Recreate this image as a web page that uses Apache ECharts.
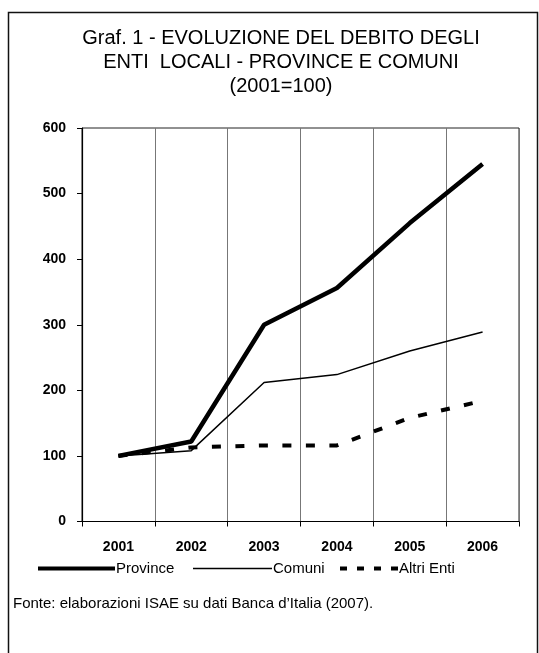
<!DOCTYPE html>
<html>
<head>
<meta charset="utf-8">
<script src="https://cdn.jsdelivr.net/npm/echarts@6/dist/echarts.min.js"></script>
<style>
  html, body { margin: 0; padding: 0; background: #fff; }
  #chart { width: 539px; height: 653px; }
</style>
</head>
<body>
<div id="chart"></div>
<script>
// Debt of local authorities, index 2001 = 100
const years = ['2001', '2002', '2003', '2004', '2005', '2006'];
const province = [100, 122, 300, 356, 455, 545];
const comuni = [100, 108, 212, 224, 260, 289];
const altriEnti = [100, 113, 116, 116, 158, 184];
const yTicks = { min: 0, max: 600, step: 100 };

const titleText = 'Graf. 1 - EVOLUZIONE DEL DEBITO DEGLI\nENTI  LOCALI - PROVINCE E COMUNI\n(2001=100)';
const sourceText = 'Fonte: elaborazioni ISAE su dati Banca d\u2019Italia (2007).';

const FONT = 'Liberation Sans, Arial, sans-serif';
const chart = echarts.init(document.getElementById('chart'), null, { renderer: 'canvas' });

const legendBase = {
  top: 561,
  padding: 0,
  itemGap: 0,
  selectedMode: false,
  textStyle: { color: '#000', fontSize: 15, fontFamily: FONT, padding: [0, 0, 0, -4] }
};

const tickLabel = { color: '#000', fontSize: 14, fontWeight: 'bold', fontFamily: FONT };

chart.setOption({
  backgroundColor: '#fff',
  animation: false,
  graphic: [
    {
      type: 'rect',
      shape: { x: 8.5, y: 12.5, width: 529, height: 700 },
      style: { fill: 'none', stroke: '#111', lineWidth: 1.5 },
      silent: true
    },
    {
      type: 'text',
      style: {
        x: 281, y: 26,
        text: titleText,
        textAlign: 'center',
        textVerticalAlign: 'top',
        fill: '#000',
        font: '20px ' + FONT,
        lineHeight: 24
      }
    },
    {
      type: 'text',
      style: {
        x: 13, y: 604,
        text: sourceText,
        textVerticalAlign: 'middle',
        fill: '#000',
        font: '15px ' + FONT
      }
    }
  ],
  legend: [
    Object.assign({}, legendBase, {
      left: 38, itemWidth: 77, itemHeight: 4,
      data: [{ name: 'Province', icon: 'rect', itemStyle: { color: '#000' } }]
    }),
    Object.assign({}, legendBase, {
      left: 193, itemWidth: 79, itemHeight: 1.5,
      data: [{ name: 'Comuni', icon: 'rect', itemStyle: { color: '#000' } }]
    }),
    Object.assign({}, legendBase, {
      left: 340, itemWidth: 58, itemHeight: 4,
      data: [{
        name: 'Altri Enti',
        icon: 'path://M0,0h7v4h-7zM17,0h7v4h-7zM34,0h7v4h-7zM51,0h7v4h-7z',
        itemStyle: { color: '#000' }
      }]
    })
  ],
  grid: {
    left: 82, right: 20, top: 128, bottom: 131.5,
    show: true, borderColor: '#222', borderWidth: 1
  },
  xAxis: {
    type: 'category',
    data: years,
    boundaryGap: true,
    axisLine: { lineStyle: { color: '#000', width: 1.2 } },
    axisTick: { show: true, length: 5, lineStyle: { color: '#000' } },
    splitLine: { show: true, lineStyle: { color: '#777', width: 1 } },
    axisLabel: Object.assign({ margin: 19 }, tickLabel)
  },
  yAxis: {
    type: 'value',
    min: yTicks.min, max: yTicks.max, interval: yTicks.step,
    axisLine: { show: true, lineStyle: { color: '#000', width: 1.2 } },
    axisTick: { show: true, length: 5, lineStyle: { color: '#000' } },
    splitLine: { show: false },
    axisLabel: Object.assign({ margin: 16 }, tickLabel)
  },
  series: [
    {
      name: 'Altri Enti', type: 'line', data: altriEnti,
      symbol: 'none', color: '#000',
      lineStyle: { color: '#000', width: 4, type: [9, 14.5], cap: 'butt' }
    },
    {
      name: 'Comuni', type: 'line', data: comuni,
      symbol: 'none', color: '#000',
      lineStyle: { color: '#000', width: 1.5 }
    },
    {
      name: 'Province', type: 'line', data: province,
      symbol: 'none', color: '#000',
      lineStyle: { color: '#000', width: 4.5 }
    }
  ]
});
</script>
</body>
</html>
